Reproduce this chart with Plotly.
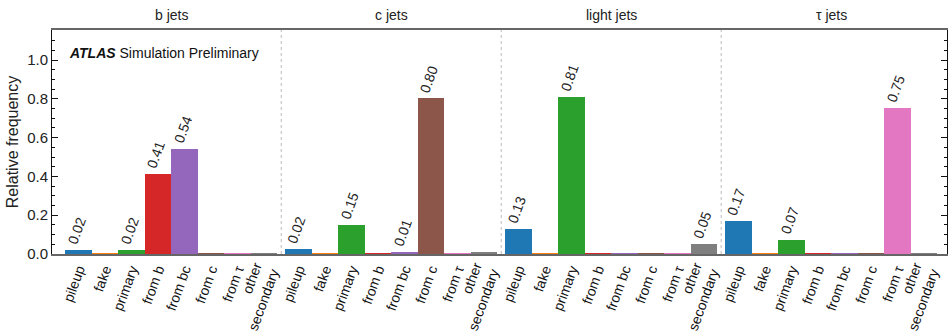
import plotly.graph_objects as go

groups = ["b jets", "c jets", "light jets", "τ jets"]
categories = ["pileup", "fake", "primary", "from b", "from bc", "from c", "from τ", "other<br>secondary"]
colors = ["#1f77b4", "#ff7f0e", "#2ca02c", "#d62728", "#9467bd", "#8c564b", "#e377c2", "#7f7f7f"]

b_jets = [0.022, 0.003, 0.022, 0.41, 0.544, 0.003, 0.003, 0.005]
c_jets = [0.024, 0.003, 0.15, 0.003, 0.012, 0.804, 0.003, 0.008]
light_jets = [0.13, 0.003, 0.81, 0.002, 0.002, 0.002, 0.002, 0.054]
tau_jets = [0.168, 0.003, 0.074, 0.002, 0.002, 0.002, 0.754, 0.003]
values = [b_jets, c_jets, light_jets, tau_jets]

label_threshold = 0.01
group_step = 8.3
FONT = "Liberation Sans, Arial, Helvetica, sans-serif"

fig = go.Figure()
tickvals, ticktext = [], []
annotations = []
for g, (gname, vals) in enumerate(zip(groups, values)):
    xs = [g * group_step + j for j in range(len(categories))]
    fig.add_trace(go.Bar(
        x=xs, y=vals, width=1.0,
        marker=dict(color=colors, line=dict(width=0)),
        showlegend=False, hoverinfo="skip",
    ))
    tickvals += xs
    ticktext += categories
    for x, v in zip(xs, vals):
        if v >= label_threshold:
            annotations.append(dict(
                x=x, y=v, xref="x", yref="y", text=f"{v:.2f}",
                textangle=-70, showarrow=False, xanchor="center", yanchor="bottom",
                xshift=-2, yshift=1, font=dict(size=14, color="#222", family=FONT),
            ))
    center = g * group_step + (len(categories) - 1) / 2
    annotations.append(dict(
        x=center, y=1, xref="x", yref="paper", text=gname, showarrow=False,
        xanchor="center", yanchor="bottom", yshift=5,
        font=dict(size=14, color="#222", family=FONT),
    ))
    if g > 0:
        sep = g * group_step - (group_step - len(categories) + 1) / 2
        fig.add_shape(type="line", x0=sep, x1=sep, y0=0, y1=1, xref="x", yref="y domain",
                      line=dict(color="#bbbbbb", width=1, dash="dot"), layer="below")

annotations.append(dict(
    x=0.017, y=0.897, xref="paper", yref="paper",
    text="<b><i>ATLAS</i></b> Simulation Preliminary", showarrow=False,
    xanchor="left", yanchor="middle", font=dict(size=14, color="#111", family=FONT),
))

n_last = 3 * group_step + len(categories) - 1
fig.update_layout(
    width=949, height=332,
    margin=dict(l=52, r=2, t=30, b=78, autoexpand=False),
    paper_bgcolor="white", plot_bgcolor="white",
    font=dict(family=FONT, size=14, color="#222"),
    bargap=0,
    annotations=annotations,
    xaxis=dict(
        range=[-1.0, n_last + 0.87], automargin=False,
        tickmode="array", tickvals=tickvals, ticktext=ticktext,
        tickangle=-70, ticks="", showgrid=False, zeroline=False,
        showline=True, linecolor="#666", linewidth=1.5, mirror=True,
        tickfont=dict(size=14, family=FONT, color="#111"),
    ),
    yaxis=dict(
        range=[0, 1.155], automargin=False, tickmode="linear", tick0=0, dtick=0.2, tickformat=".1f",
        ticks="inside", ticklen=6, tickcolor="#111",
        minor=dict(dtick=0.05, ticks="inside", ticklen=3, tickcolor="#111", showgrid=False),
        showgrid=False, zeroline=False,
        showline=True, linecolor="#111", linewidth=1, mirror="ticks",
        title=dict(text="Relative frequency", font=dict(size=16, family=FONT, color="#222"), standoff=4),
        tickfont=dict(size=15, family=FONT, color="#222"),
    ),
)

fig.write_html("out.html")
